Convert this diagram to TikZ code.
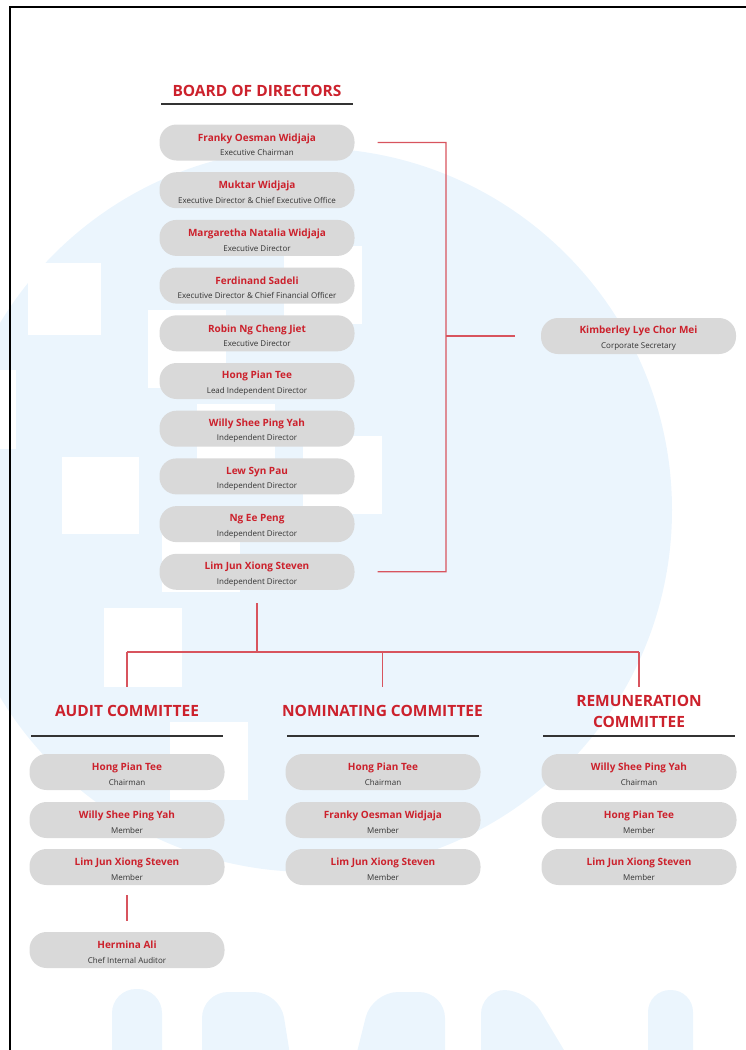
\documentclass[tikz,border=0pt]{standalone}
\usepackage{fontspec}
\setmainfont{Open Sans}
\usetikzlibrary{positioning}

\definecolor{namered}{RGB}{204,33,44}
\definecolor{linered}{RGB}{216,84,94}
\definecolor{pillgray}{RGB}{217,217,217}
\definecolor{rolegray}{RGB}{51,51,51}
\definecolor{wmblue}{RGB}{235,245,253}

\newcommand{\person}[2]{{\rule{0pt}{12pt}\fontsize{10}{12}\selectfont\bfseries\color{namered}#1}\\{\color{rolegray}#2}}

\tikzset{
  pill/.style={fill=pillgray, rounded corners=17pt, minimum width=195pt, minimum height=36pt,
    inner sep=0pt, align=center, font=\fontsize{8}{14.5}\selectfont},
  heading/.style={text=namered, align=center, font=\fontsize{15.5}{21}\selectfont\bfseries},
  headrule/.style={draw=rolegray, line width=2.5pt},
  link/.style={draw=linered, line width=1.2pt},
}

\begin{document}
\begin{tikzpicture}[x=1pt, y=-1pt]
  \useasboundingbox (0,0) rectangle (745,1050);

  % Watermark in the background
  \fill[wmblue] (310,510) circle (362pt);
  \fill[white] (28,263) rectangle (101,335);
  \fill[white] (0,370) rectangle (16,449);
  \fill[white] (62,457) rectangle (139,534);
  \fill[white] (148,310) rectangle (226,388);
  \fill[white] (284,246) rectangle (362,324);
  \fill[white] (197,404) rectangle (275,482);
  \fill[white] (303,436) rectangle (382,514);
  \fill[white] (162,514) rectangle (240,592);
  \fill[white] (104,608) rectangle (182,687);
  \fill[white] (170,722) rectangle (248,800);
  \fill[wmblue, rounded corners=24pt] (112,1080) -- (112,989) -- (162,989) -- (162,1080);
  \fill[wmblue, rounded corners=26pt] (202,1080) -- (202,992) -- (280,992) -- (294,1080);
  \fill[wmblue, rounded corners=26pt] (350,1080) -- (372,992) -- (445,992) -- (445,1080);
  \fill[wmblue, rounded corners=24pt] (481,1080) -- (481,990) -- (528,990) -- (582,1080);
  \fill[wmblue, rounded corners=22pt] (648,1080) -- (648,990) -- (693,990) -- (693,1080);

  % Frame
  \draw[line width=1.8pt] (10,1060) -- (10,7) -- (760,7);

  % Board of directors
  \node[heading] (bod) at (257,91) {BOARD OF DIRECTORS};
  \draw[headrule] (161,104) -- (353,104);
  \foreach \nm/\rl [count=\i] in {
      Franky Oesman Widjaja/Executive Chairman,
      Muktar Widjaja/Executive Director \& Chief Executive Office,
      Margaretha Natalia Widjaja/Executive Director,
      Ferdinand Sadeli/Executive Director \& Chief Financial Officer,
      Robin Ng Cheng Jiet/Executive Director,
      Hong Pian Tee/Lead Independent Director,
      Willy Shee Ping Yah/Independent Director,
      Lew Syn Pau/Independent Director,
      Ng Ee Peng/Independent Director,
      Lim Jun Xiong Steven/Independent Director}
    \node[pill] (b\i) at (257,{142.5+47.7*(\i-1)}) {\person{\nm}{\rl}};

  \node[pill] (ks) at (638.5,336) {\person{Kimberley Lye Chor Mei}{Corporate Secretary}};

  \coordinate (bt) at (446,142.5);
  \coordinate (bb) at (446,571.8);
  \draw[link] ([xshift=23pt]b1.east) -- (bt) -- (bb) -- ([xshift=23pt]b10.east);
  \draw[link] (bt |- ks) -- ([xshift=-26pt]ks.west);

  % Committees
  \node[heading] (hac) at (127,711) {AUDIT COMMITTEE};
  \node[heading] (hnc) at (382.5,711) {NOMINATING COMMITTEE};
  \node[heading] (hrc) at (639,711.5) {REMUNERATION\\COMMITTEE};
  \draw[headrule] (31,736) -- (223,736);
  \draw[headrule] (287,736) -- (479,736);
  \draw[headrule] (543,736) -- (735,736);

  \coordinate (split) at (257,652);
  \draw[link] ([yshift=-13pt]b10.south) -- (split);
  \draw[link] (split -| hac) -- (split -| hrc);
  \draw[link] (split -| hac) -- ++(0,35);
  \draw[link] (split -| hnc) -- ++(0,35);
  \draw[link] (split -| hrc) -- ++(0,35);

  \node[pill] (a1) at (127,772) {\person{Hong Pian Tee}{Chairman}};
  \node[pill] (a2) at (127,820) {\person{Willy Shee Ping Yah}{Member}};
  \node[pill] (a3) at (127,867) {\person{Lim Jun Xiong Steven}{Member}};
  \node[pill] (ia) at (127,950) {\person{Hermina Ali}{Chef Internal Auditor}};
  \draw[link] ([yshift=-10pt]a3.south) -- ([yshift=11pt]ia.north);

  \node[pill] (n1) at (383,772) {\person{Hong Pian Tee}{Chairman}};
  \node[pill] (n2) at (383,820) {\person{Franky Oesman Widjaja}{Member}};
  \node[pill] (n3) at (383,867) {\person{Lim Jun Xiong Steven}{Member}};

  \node[pill] (r1) at (639,772) {\person{Willy Shee Ping Yah}{Chairman}};
  \node[pill] (r2) at (639,820) {\person{Hong Pian Tee}{Member}};
  \node[pill] (r3) at (639,867) {\person{Lim Jun Xiong Steven}{Member}};
\end{tikzpicture}
\end{document}
